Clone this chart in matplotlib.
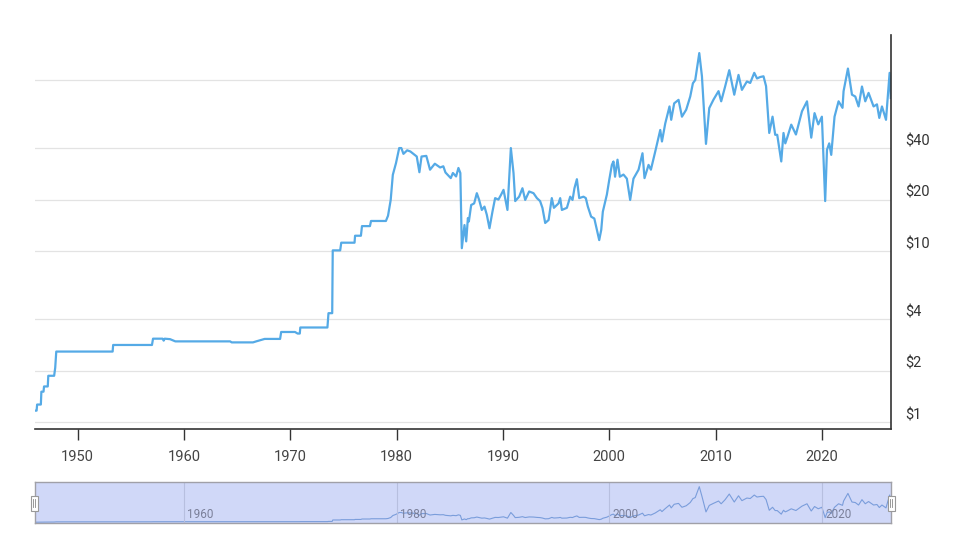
import numpy as np
import matplotlib
matplotlib.use("Agg")
import matplotlib.pyplot as plt
from matplotlib.patches import Rectangle

# monthly-ish crude price readings (year, USD), log chart
years = [
    1946.0, 1946.15, 1946.2, 1946.55, 1946.6, 1946.8, 1946.85, 1947.2, 1947.25, 1947.8,
    1947.9, 1948.0, 1953.3, 1953.35, 1957.0, 1957.1, 1958.0, 1958.1, 1958.2, 1958.7,
    1959.2, 1964.35, 1964.5, 1966.5, 1966.8, 1967.6, 1969.05, 1969.15, 1970.45, 1970.7,
    1970.9, 1970.95, 1973.5, 1973.6, 1973.95, 1974.0, 1974.7, 1974.8, 1976.05, 1976.1,
    1976.65, 1976.75, 1977.5, 1977.6, 1979.0, 1979.2, 1979.45, 1979.65, 1979.95, 1980.25,
    1980.45, 1980.65, 1981.0, 1981.3, 1981.9, 1982.15, 1982.35, 1982.8, 1983.15, 1983.6,
    1984.1, 1984.4, 1984.6, 1985.1, 1985.3, 1985.6, 1985.82, 1986.0, 1986.14, 1986.39,
    1986.55, 1986.71, 1986.8, 1987.02, 1987.3, 1987.55, 1987.77, 1988.02, 1988.27, 1988.49,
    1988.74, 1989.02, 1989.27, 1989.58, 1989.84, 1990.06, 1990.43, 1990.75, 1991.0, 1991.16,
    1991.53, 1991.84, 1992.1, 1992.47, 1992.88, 1993.2, 1993.5, 1993.72, 1993.98, 1994.3,
    1994.6, 1994.8, 1995.23, 1995.39, 1995.55, 1996.02, 1996.33, 1996.55, 1996.73, 1996.96,
    1997.18, 1997.58, 1997.8, 1997.99, 1998.3, 1998.6, 1998.84, 1999.06, 1999.25, 1999.4,
    1999.78, 2000.0, 2000.25, 2000.4, 2000.55, 2000.78, 2001.0, 2001.34, 2001.66, 2001.97,
    2002.28, 2002.76, 2003.13, 2003.32, 2003.7, 2003.92, 2004.33, 2004.8, 2004.96, 2005.27,
    2005.67, 2005.83, 2006.11, 2006.52, 2006.84, 2007.24, 2007.62, 2007.87, 2008.09, 2008.47,
    2008.72, 2009.1, 2009.41, 2009.81, 2010.28, 2010.53, 2010.9, 2011.29, 2011.76, 2012.16,
    2012.48, 2012.95, 2013.26, 2013.64, 2013.9, 2014.2, 2014.51, 2014.75, 2015.05, 2015.36,
    2015.61, 2015.8, 2016.18, 2016.39, 2016.56, 2016.74, 2017.12, 2017.56, 2018.13, 2018.6,
    2019.0, 2019.31, 2019.66, 2020.0, 2020.31, 2020.48, 2020.69, 2020.88, 2021.19, 2021.57,
    2021.94, 2022.04, 2022.45, 2022.83, 2023.14, 2023.45, 2023.77, 2024.08, 2024.39, 2024.86,
    2025.18, 2025.4, 2025.65, 2026.03, 2026.37, 2026.48,
]
prices = [
    1.17, 1.17, 1.27, 1.27, 1.51, 1.51, 1.62, 1.62, 1.87, 1.87,
    2.08, 2.59, 2.59, 2.83, 2.83, 3.08, 3.08, 3.0, 3.08, 3.06,
    2.97, 2.97, 2.93, 2.93, 2.97, 3.07, 3.07, 3.37, 3.37, 3.3,
    3.3, 3.58, 3.58, 4.34, 4.34, 10.1, 10.1, 11.2, 11.2, 12.3,
    12.3, 14.0, 14.0, 15.0, 15.0, 16.1, 19.9, 27.9, 32.7, 40.0,
    40.0, 37.0, 38.8, 38.2, 35.7, 28.9, 35.7, 36.0, 29.9, 32.4,
    30.8, 31.3, 28.8, 26.7, 28.6, 27.3, 30.6, 28.6, 10.4, 14.2,
    11.4, 15.6, 14.9, 18.6, 19.0, 21.8, 19.9, 17.4, 18.2, 16.3,
    13.6, 17.0, 20.4, 20.0, 21.4, 22.8, 17.4, 40.0, 28.6, 19.6,
    20.8, 23.3, 19.9, 22.3, 21.8, 20.4, 19.6, 17.9, 14.6, 15.2,
    20.4, 17.9, 19.0, 20.4, 17.4, 17.9, 20.8, 19.9, 23.3, 26.3,
    20.4, 20.8, 20.4, 18.2, 15.9, 15.5, 13.3, 11.6, 13.3, 17.0,
    21.4, 26.0, 31.9, 33.4, 27.2, 34.2, 27.2, 28.0, 26.5, 19.9,
    26.5, 29.9, 37.3, 26.7, 31.9, 29.9, 38.2, 51.0, 43.7, 55.7,
    70.0, 58.5, 73.0, 76.5, 61.0, 67.0, 80.0, 95.6, 99.9, 143.5,
    105.0, 42.3, 68.5, 76.8, 86.0, 75.0, 91.5, 114.0, 82.0, 107.0,
    87.5, 98.0, 96.0, 110.0, 102.0, 104.0, 105.0, 92.0, 49.0, 61.0,
    47.8, 47.8, 33.4, 49.0, 42.6, 46.0, 54.8, 48.0, 65.6, 75.0,
    46.0, 64.0, 55.0, 61.0, 19.6, 39.1, 42.6, 36.5, 61.0, 75.0,
    68.7, 86.0, 116.5, 82.0, 80.0, 70.0, 91.5, 75.0, 84.0, 70.0,
    72.0, 60.0, 70.0, 58.5, 110.0, 78.5,
]

grid_values = [1, 2, 4, 10, 20, 40, 100]
grid_labels = ["$1", "$2", "$4", "$10", "$20", "$40", ""]
decades = [1950, 1960, 1970, 1980, 1990, 2000, 2010, 2020]
nav_years = [1960, 1980, 2000, 2020]

plt.rcParams["font.family"] = ["Roboto", "DejaVu Sans"]

line_color = "#55aae6"

fig = plt.figure(figsize=(9.64, 5.53), dpi=100)

# main chart
ax = fig.add_axes([35 / 964, 1 - 429 / 553, 856 / 964, 394 / 553])
ax.plot(years, prices, color=line_color, linewidth=1.6, solid_joinstyle="round")
ax.set_yscale("log")
ax.set_xlim(1946.0, 2026.5)
ax.set_ylim(0.914, 183)
ax.yaxis.tick_right()
ax.set_yticks(grid_values)
ax.set_yticklabels(grid_labels)
ax.yaxis.set_minor_locator(plt.NullLocator())
ax.tick_params(axis="y", length=0, pad=10, labelsize=10.5, labelcolor="#333333")
for lbl in ax.get_yticklabels():
    lbl.set_verticalalignment("bottom")
ax.grid(axis="y", color="#e3e3e3", linewidth=0.9)
ax.set_axisbelow(True)
ax.set_xticks(decades)
ax.set_xticklabels([str(d) for d in decades])
ax.tick_params(axis="x", length=8, width=1, color="#333333", pad=7,
               labelsize=10.5, labelcolor="#444444")
for side in ["top", "left"]:
    ax.spines[side].set_visible(False)
ax.spines["bottom"].set_color("#333333")
ax.spines["right"].set_color("#333333")
ax.spines["bottom"].set_linewidth(1.2)
ax.spines["right"].set_linewidth(1.2)

# navigator
nav = fig.add_axes([35 / 964, 1 - 522.5 / 553, 856 / 964, 40.2 / 553])
nav.set_facecolor("#d0d8f8")
nav.plot(years, prices, color="#7a9ddb", linewidth=0.8)
nav.set_xlim(1946.0, 2026.5)
nav.set_ylim(0, 161)
nav.set_xticks([])
nav.set_yticks([])
for y in nav_years:
    nav.axvline(y, color="#b7bfdf", linewidth=0.8)
    nav.text(y + 0.3, 6, str(y), fontsize=8.5, color="#7a7f99", ha="left", va="bottom")
for side in nav.spines:
    nav.spines[side].set_color("#a0a0a8")
    nav.spines[side].set_linewidth(1.0)

# navigator handles
for hx in [34, 891]:
    fig.patches.append(Rectangle(((hx - 3.5) / 964, 1 - 510.5 / 553), 7 / 964, 15 / 553,
                                 transform=fig.transFigure, facecolor="white",
                                 edgecolor="#999999", linewidth=0.8, zorder=5))
    for dx in [-1, 1]:
        fig.lines.append(plt.Line2D([(hx + dx) / 964] * 2, [1 - 507 / 553, 1 - 499 / 553],
                                    transform=fig.transFigure, color="#888888",
                                    linewidth=0.6, zorder=6))

fig.savefig("out.png", dpi=100)
